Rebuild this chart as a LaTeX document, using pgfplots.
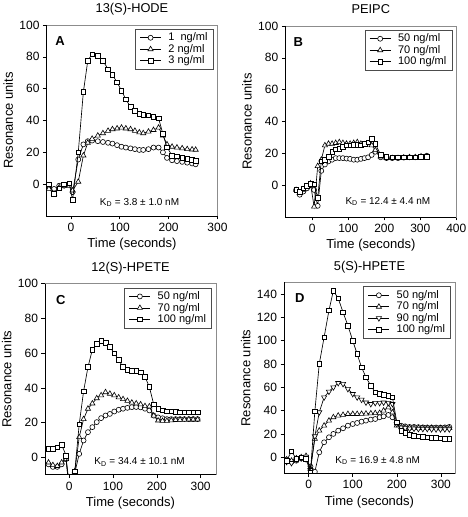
\documentclass[border=0pt]{standalone}
\usepackage{fontspec}
\setmainfont{Liberation Sans}
\usepackage{pgfplots}
\pgfplotsset{compat=1.18}
\pgfplotsset{
  panel/.style={
    scale only axis, width=171pt, height=191pt,
    anchor=south west,
    axis line style={draw=black!45, line width=0.5pt},
    tick align=outside, xtick pos=bottom, ytick pos=left,
    major tick length=3.5pt,
    every tick/.style={black, line width=0.6pt},
    /pgf/number format/assume math mode=true,
    ticklabel style={font=\fontsize{12}{13}\selectfont},
    xlabel={Time (seconds)}, ylabel={Resonance units},
    label style={font=\fontsize{13}{15}\selectfont},
    xlabel style={at={(axis description cs:0.5,-0.1675)}, anchor=base},
    ylabel style={at={(axis description cs:-0.197,0.5)}, anchor=base},
    every axis title/.style={font=\fontsize{12.8}{14}\selectfont, at={(axis description cs:0.5,1)}, anchor=base, yshift=12pt},
    legend style={draw=black!70, line width=0.4pt, font=\fontsize{11}{12}\selectfont,
      at={(0.975,0.98)}, anchor=north east, inner xsep=4.5pt, inner ysep=3pt,
      row sep=0pt, column sep=6pt, nodes={inner sep=1pt}, cells={anchor=west}},
    legend image code/.code={\draw[mark repeat=2,mark phase=2,#1] plot coordinates {(0pt,0pt) (10.5pt,0pt) (21pt,0pt)};},
    every axis plot/.append style={black, line width=0.65pt, mark options={fill=white, solid, line width=0.6pt}},
    clip mode=individual, clip marker paths=true,
    after end axis/.code={\draw[black, line width=0.8pt] (rel axis cs:0,1) -- (rel axis cs:0,0) -- (rel axis cs:1,0);},
  },
  pc/.style={mark=*, mark size=2.5pt},
  pt/.style={mark=triangle*, mark size=3pt},
  pv/.style={mark=triangle*, mark size=3pt, mark options={fill=white, solid, line width=0.6pt, rotate=180}},
  ps/.style={mark=square*, mark size=2.3pt},
}
\begin{document}
\begin{tikzpicture}
\useasboundingbox (0pt,0pt) rectangle (468pt,517pt);

% ---------------- A ----------------
\begin{axis}[panel, at={(46.5pt,301pt)}, title={13(S)-HODE},
  xmin=-50, xmax=300, ymin=-20, ymax=100,
  xtick={0,100,200,300}, ytick={0,20,40,60,80,100}]
\addplot[pc] coordinates {(-45,-1) (-34.5,-3) (-24,-1) (-14,-1) (-3.5,0) (3.4,-5) (15,15.5) (25.5,25) (34.5,27) (43.4,27.4) (55,27) (65.5,26.5) (76,26) (85,25.5) (94.5,24.5) (103.5,23.5) (112.4,23) (122,22.5) (131,22) (140,21.5) (148,21.5) (158.7,22) (169,23) (179.4,23) (188.3,20) (196.6,16.5) (207,15) (217,14.5) (227.7,14) (238,13.5) (248,13) (255.3,12.5)};
\addlegendentry{1\ \ ng/ml}
\addplot[pt] coordinates {(-45,-3) (-34.5,-6) (-24,-2) (-14,-1) (-3.5,-1) (3.4,-4) (15,1.5) (25.5,18) (34.5,26) (43.4,28.5) (55,30.5) (65.5,32) (76,33.5) (85,34.5) (94.5,35) (103.5,35.5) (112.4,35) (122,34.5) (131,33.5) (140,32.5) (148,32) (158.7,33) (169,34) (179.4,35.5) (188.3,30.5) (196.6,25) (207,23.5) (217,23) (227.7,22.5) (238,22) (248,21.8) (255.3,21.6)};
\addlegendentry{2 ng/ml}
\addplot[ps] coordinates {(-45,0) (-34.5,-6) (-24,-2.6) (-14,0) (-3.5,0.5) (3.4,-10) (15,20) (25.5,58) (34.5,77.6) (43.4,81.7) (55,80.7) (65.5,77.6) (76,72.2) (85,68.7) (94.5,63.9) (103.5,58.8) (112.4,53.2) (122,48.6) (131,46) (140,44.3) (148,43.5) (158.7,43.3) (169,42.2) (179.4,41.4) (188.3,31.5) (196.6,23.2) (207,18) (217,17.4) (227.7,16.6) (238,16) (248,15.4) (255.3,14.7)};
\addlegendentry{3 ng/ml}
\node[font=\fontsize{13}{14}\selectfont\bfseries] at (rel axis cs:0.079,0.916) {A};
\node[font=\fontsize{10}{11}\selectfont] at (rel axis cs:0.544,0.07) {K\textsubscript{D} = 3.8 ± 1.0 nM};
\end{axis}

% ---------------- B ----------------
\begin{axis}[panel, at={(285.3pt,300pt)}, title={PEIPC},
  xmin=-75, xmax=400, ymin=-20, ymax=100,
  xtick={0,100,200,300,400}, ytick={0,20,40,60,80,100}]
\addplot[pc] coordinates {(-45,-3) (-35,-6) (-25,-4) (-15,-2) (-5,0) (5,-3) (15,-13) (25,9) (35,13) (45,15) (55,16) (65,17) (75,17) (85,17) (95,16.7) (105,16.5) (115,16) (125,16) (135,16.5) (145,17) (155,17.5) (165,19) (175,21) (190,17.5) (206,17) (222,17) (238,17) (254,17.3) (270,17.5) (286,17.5) (302,18) (318,18.5)};
\addlegendentry{50 ng/ml}
\addplot[pt] coordinates {(-45,-3) (-35,-5) (-25,-3) (-15,-1) (-5,1) (5,-13.5) (15,12) (25,16) (35,25) (45,26) (55,26) (65,26.5) (75,27) (85,26.5) (95,26) (105,26) (115,26.5) (125,27) (135,26) (145,25.5) (155,25.5) (165,25) (175,22) (190,18) (206,17) (222,17) (238,17) (254,17.3) (270,17.5) (286,17.5) (302,18) (318,18)};
\addlegendentry{70 ng/ml}
\addplot[ps] coordinates {(-45,-3) (-35,-4) (-25,-2) (-15,-0.5) (-5,1) (5,0.5) (15,-8) (25,15) (35,16) (45,18) (55,21) (65,22.5) (75,23) (85,24) (95,25) (105,25) (115,25.5) (125,25.5) (135,25) (145,26) (155,27) (165,29) (175,26) (190,19) (206,18) (222,17.5) (238,17.5) (254,17.5) (270,17.5) (286,17.5) (302,18) (318,18)};
\addlegendentry{100 ng/ml}
\node[font=\fontsize{13}{14}\selectfont\bfseries] at (rel axis cs:0.076,0.918) {B};
\node[font=\fontsize{10}{11}\selectfont] at (rel axis cs:0.60,0.08) {K\textsubscript{D} = 12.4 ± 4.4 nM};
\end{axis}

% ---------------- C ----------------
\begin{axis}[panel, at={(45pt,42.3pt)}, title={12(S)-HPETE},
  xmin=-55, xmax=335, ymin=-10, ymax=100,
  xtick={0,100,200,300}, ytick={0,20,40,60,80,100}]
\addplot[pc] coordinates {(-47,-4) (-37,-5.5) (-27,-5.5) (-17,-4) (-7,-1) (3,-20) (13,-9) (23,2) (33,9.7) (43,14.5) (53,17.4) (63,20.3) (73,22.6) (83,24.1) (93,25) (103,26.4) (113,27.4) (123,28) (133,28.5) (143,28.9) (153,29) (163,28.8) (173,28) (183,27) (193,24) (203,23) (213,22.5) (223,22) (233,22) (243,22) (253,22) (263,22) (273,22) (283,22) (293,22)};
\addlegendentry{50 ng/ml}
\addplot[pt] coordinates {(-47,-3) (-37,-4.5) (-27,-5) (-17,-3) (-7,-1) (3,-25) (13,-8) (23,11.6) (33,22) (43,28) (53,31) (63,34) (73,35.7) (83,37.5) (93,36.6) (103,35.7) (113,34.5) (123,33.5) (133,32.5) (143,31.5) (153,31) (163,30.5) (173,29.5) (183,29.3) (193,24) (203,21.2) (213,21) (223,21) (233,21.3) (243,21.5) (253,21.6) (263,21.7) (273,21.8) (283,21.8) (293,21.8)};
\addlegendentry{70 ng/ml}
\addplot[ps] coordinates {(-47,4.8) (-37,4.8) (-27,5.8) (-17,7.3) (-7,1) (3,-30) (13,-8) (23,19) (33,38) (43,52) (53,62) (63,65.5) (73,67) (83,66) (93,63.5) (103,60) (113,56) (123,52) (133,50.5) (143,50) (153,49.7) (163,49) (173,46.5) (183,40.5) (193,30.5) (203,28) (213,27) (223,26.6) (233,26.4) (243,26.3) (253,26) (263,26) (273,26) (283,26) (293,26)};
\addlegendentry{100 ng/ml}
\node[font=\fontsize{13}{14}\selectfont\bfseries] at (rel axis cs:0.093,0.915) {C};
\node[font=\fontsize{10}{11}\selectfont] at (rel axis cs:0.553,0.066) {K\textsubscript{D} = 34.4 ± 10.1 nM};
\end{axis}

% ---------------- D ----------------
\begin{axis}[panel, at={(284pt,43.5pt)}, title={5(S)-HPETE},
  xmin=-56, xmax=332, ymin=-14, ymax=150,
  xtick={0,100,200,300}, ytick={0,20,40,60,80,100,120,140}]
\addplot[pc] coordinates {(-50,-2) (-39,-4) (-28,-3) (-17,-1) (-6,-2) (4,-8) (14,-12.5) (24,4.2) (35,12.8) (46,17.1) (56,20) (67,22.8) (78,24.8) (89,27.1) (100,28.5) (110,29.4) (120,30.5) (130,31.4) (141,32.3) (151,32.8) (161,34.3) (170,35.1) (181,36.3) (190,34.3) (200,28.5) (210,27) (219,26.5) (229,26) (239,26) (249,25.8) (259,25.6) (269,25.5) (279,25.5) (289,25.5) (299,25.5) (309,25.6) (319,26)};
\addlegendentry{50 ng/ml}
\addplot[pt] coordinates {(-50,-2) (-39,-3) (-28,-1) (-17,0) (-6,1) (4,-10) (14,15.7) (24,22.8) (35,27.1) (46,31.4) (56,34.3) (67,35.7) (78,36.3) (89,37.1) (100,37.1) (110,37.1) (120,37.2) (130,37.4) (141,37.6) (151,37.8) (161,38) (170,40) (181,42.8) (190,38.5) (200,27.1) (210,25.7) (219,25.5) (229,25.3) (239,25) (249,25) (259,25) (269,25) (279,25) (289,24.8) (299,24.8) (309,24.8) (319,25)};
\addlegendentry{70 ng/ml}
\addplot[pv] coordinates {(-50,-4) (-39,-5) (-28,-2) (-17,-1) (-6,0.5) (4,-11) (14,18) (24,38.6) (35,51.4) (46,56.3) (56,60) (67,63.7) (78,62.9) (89,58.6) (100,54.3) (110,51.4) (120,49.4) (130,47) (141,45.7) (151,46.6) (161,46.6) (170,47) (181,46.6) (190,45.7) (200,28.5) (210,25.5) (219,25) (229,24.5) (239,24.5) (249,24.3) (259,24.3) (269,24.3) (279,24) (289,24) (299,24) (309,24) (319,24)};
\addlegendentry{90 ng/ml}
\addplot[ps] coordinates {(-50,-3) (-39,5) (-28,-1.5) (-17,0) (-6,-1.5) (4,-13) (14,39.4) (24,80) (35,103) (46,126) (56,143) (67,136.4) (78,124.4) (89,113) (100,100) (110,88.6) (120,77.2) (130,68.6) (141,61.4) (151,55.7) (161,54.3) (170,53.4) (181,52.9) (190,51.4) (200,30) (210,22.8) (219,20.8) (229,19.1) (239,18.5) (249,18) (259,17.5) (269,17) (279,16.8) (289,16.5) (299,16.2) (309,16) (319,15.8)};
\addlegendentry{100 ng/ml}
\node[font=\fontsize{13}{14}\selectfont\bfseries] at (rel axis cs:0.092,0.919) {D};
\node[font=\fontsize{10}{11}\selectfont] at (rel axis cs:0.548,0.069) {K\textsubscript{D} = 16.9 ± 4.8 nM};
\end{axis}
\end{tikzpicture}
\end{document}
